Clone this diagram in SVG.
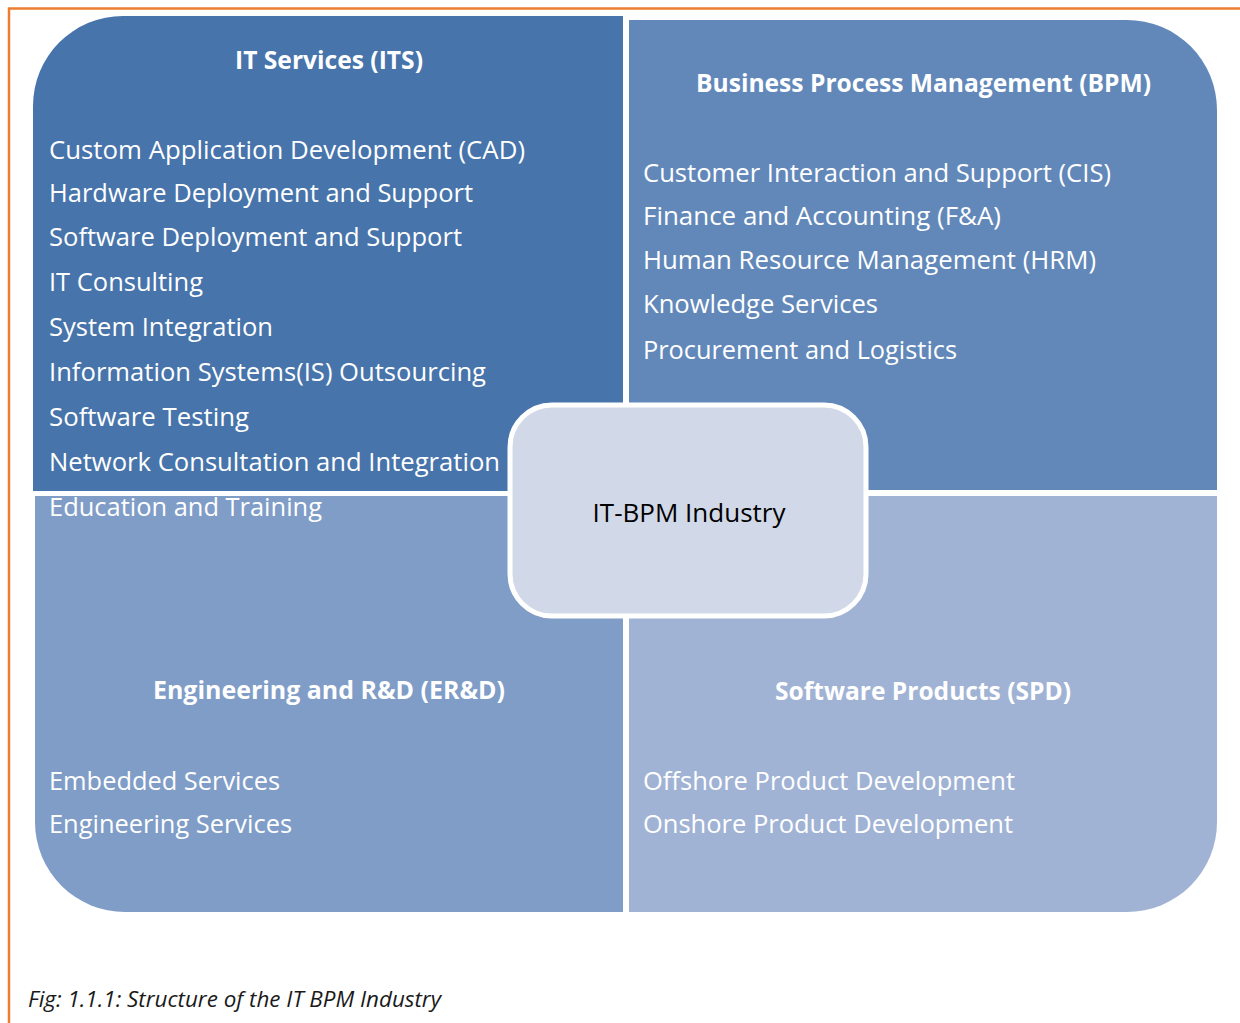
<svg xmlns="http://www.w3.org/2000/svg" width="1240" height="1023" viewBox="0 0 1240 1023">
<style>
.item{font-family:"Open Sans","Noto Sans",sans-serif;font-size:25.5px;fill:#ffffff}
.title{font-family:"Open Sans","Noto Sans",sans-serif;font-size:24.7px;font-weight:bold;fill:#ffffff;text-anchor:middle}
.center{font-family:"Open Sans","Noto Sans",sans-serif;font-size:26px;fill:#000000;text-anchor:middle}
.cap{font-family:"Open Sans","Noto Sans",sans-serif;font-size:22px;font-style:italic;fill:#1a1a1a}
</style>
<rect width="1240" height="1023" fill="#ffffff"/>
<g id="frame">
<line x1="8" y1="8.5" x2="1240" y2="8.5" stroke="#ED7D31" stroke-width="2.5"/>
<line x1="9" y1="8" x2="9" y2="1023" stroke="#ED7D31" stroke-width="2.5"/>
</g>
<g id="its">
<path d="M33,491 V106 A90,90 0 0 1 123,16 H623 V491 Z" fill="#4774AA"/>
<text class="title" x="329" y="69" textLength="188" lengthAdjust="spacingAndGlyphs">IT Services (ITS)</text>
<text class="item" x="49" y="159" textLength="476" lengthAdjust="spacingAndGlyphs">Custom Application Development (CAD)</text>
<text class="item" x="49" y="202" textLength="424" lengthAdjust="spacingAndGlyphs">Hardware Deployment and Support</text>
<text class="item" x="49" y="246" textLength="413" lengthAdjust="spacingAndGlyphs">Software Deployment and Support</text>
<text class="item" x="49" y="291" textLength="154" lengthAdjust="spacingAndGlyphs">IT Consulting</text>
<text class="item" x="49" y="336" textLength="224" lengthAdjust="spacingAndGlyphs">System Integration</text>
<text class="item" x="49" y="381" textLength="437" lengthAdjust="spacingAndGlyphs">Information Systems(IS) Outsourcing</text>
<text class="item" x="49" y="426" textLength="200" lengthAdjust="spacingAndGlyphs">Software Testing</text>
<text class="item" x="49" y="471" textLength="451" lengthAdjust="spacingAndGlyphs">Network Consultation and Integration</text>
</g>
<g id="bpm">
<path d="M629,20 H1127 A90,90 0 0 1 1217,110 V490 H629 Z" fill="#6288BA"/>
<text class="title" x="923.5" y="92" textLength="455" lengthAdjust="spacingAndGlyphs">Business Process Management (BPM)</text>
<text class="item" x="643" y="182" textLength="468" lengthAdjust="spacingAndGlyphs">Customer Interaction and Support (CIS)</text>
<text class="item" x="643" y="225" textLength="358" lengthAdjust="spacingAndGlyphs">Finance and Accounting (F&amp;A)</text>
<text class="item" x="643" y="269" textLength="453" lengthAdjust="spacingAndGlyphs">Human Resource Management (HRM)</text>
<text class="item" x="643" y="313" textLength="235" lengthAdjust="spacingAndGlyphs">Knowledge Services</text>
<text class="item" x="643" y="359" textLength="314" lengthAdjust="spacingAndGlyphs">Procurement and Logistics</text>
</g>
<g id="erd">
<path d="M35,496 H623 V912 H125 A90,90 0 0 1 35,822 Z" fill="#809DC7"/>
<text class="item" x="49" y="516" textLength="273" lengthAdjust="spacingAndGlyphs">Education and Training</text>
<text class="title" x="329" y="699" textLength="352" lengthAdjust="spacingAndGlyphs">Engineering and R&amp;D (ER&amp;D)</text>
<text class="item" x="49" y="790" textLength="231" lengthAdjust="spacingAndGlyphs">Embedded Services</text>
<text class="item" x="49" y="833" textLength="243" lengthAdjust="spacingAndGlyphs">Engineering Services</text>
</g>
<g id="spd">
<path d="M629,496 H1217 V822 A90,90 0 0 1 1127,912 H629 Z" fill="#A1B3D4"/>
<text class="title" x="923" y="700" textLength="296" lengthAdjust="spacingAndGlyphs">Software Products (SPD)</text>
<text class="item" x="643" y="790" textLength="372" lengthAdjust="spacingAndGlyphs">Offshore Product Development</text>
<text class="item" x="643" y="833" textLength="370" lengthAdjust="spacingAndGlyphs">Onshore Product Development</text>
</g>
<g id="connectors"></g>
<g id="core">
<rect x="510" y="405" width="356" height="211" rx="42" ry="42" fill="#D1D8E7" stroke="#ffffff" stroke-width="5"/>
<text class="center" x="689" y="522">IT-BPM Industry</text>
</g>
<g id="caption">
<text class="cap" x="28" y="1007" textLength="413" lengthAdjust="spacingAndGlyphs">Fig: 1.1.1: Structure of the IT BPM Industry</text>
</g>
</svg>
